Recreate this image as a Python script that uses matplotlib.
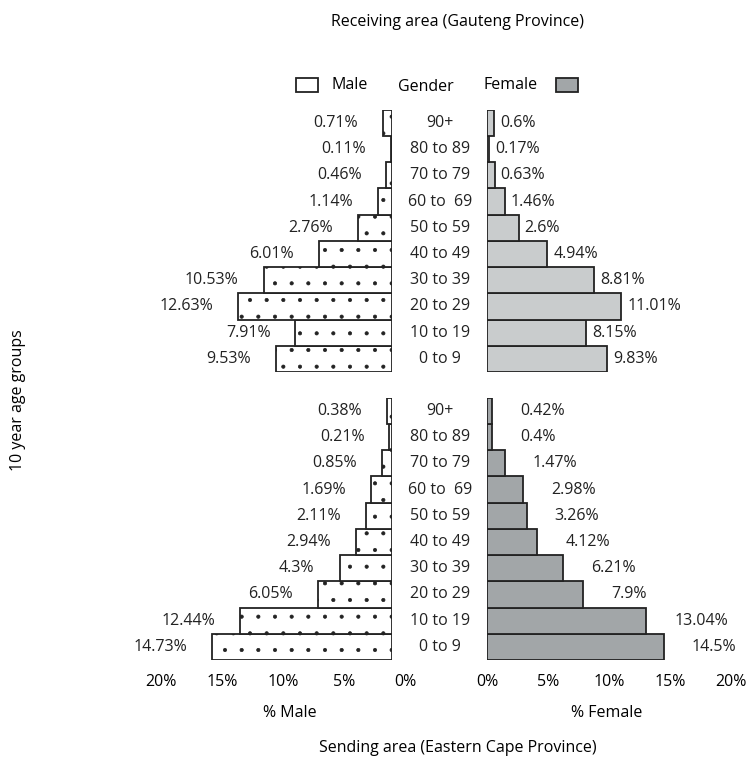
import matplotlib.pyplot as plt
import matplotlib.transforms as mtransforms
from matplotlib.patches import Rectangle

plt.rcParams['font.family'] = ['Open Sans', 'DejaVu Sans']
plt.rcParams['hatch.linewidth'] = 0.5
plt.rcParams['hatch.color'] = '#666666'

age_groups = ['0 to 9', '10 to 19', '20 to 29', '30 to 39', '40 to 49',
              '50 to 59', '60 to  69', '70 to 79', '80 to 89', '90+']

gauteng_male = [9.53, 7.91, 12.63, 10.53, 6.01, 2.76, 1.14, 0.46, 0.11, 0.71]
gauteng_female = [9.83, 8.15, 11.01, 8.81, 4.94, 2.6, 1.46, 0.63, 0.17, 0.6]
ecape_male = [14.73, 12.44, 6.05, 4.3, 2.94, 2.11, 1.69, 0.85, 0.21, 0.38]
ecape_female = [14.5, 13.04, 7.9, 6.21, 4.12, 3.26, 2.98, 1.47, 0.4, 0.42]

xticks = [0, 5, 10, 15, 20]
xticklabels = ['0%', '5%', '10%', '15%', '20%']

female_top = '#c9cccd'
female_bottom = '#a2a6a8'
fs = 11.5

fig = plt.figure(figsize=(7.53, 7.6), dpi=100)

W = 0.3241
panels = [
    (0.5105, gauteng_male, gauteng_female, female_top, 25, 6, False),
    (0.1316, ecape_male, ecape_female, female_bottom, 25, 28, True),
]

for bottom, male, female, fcol, mgap, fgap, show_ticks in panels:
    axm = fig.add_axes([0.1965, bottom, W, 0.345])
    axf = fig.add_axes([0.6467, bottom, W, 0.345])
    y = list(range(len(age_groups)))

    axm.barh(y, male, height=1.0, color='white', edgecolor='#222222',
             linewidth=1.3, hatch='.')
    axf.barh(y, female, height=1.0, color=fcol, edgecolor='#222222',
             linewidth=1.3)

    axm.set_xlim(20, 0)
    axf.set_xlim(0, 20)
    for ax in (axm, axf):
        ax.set_ylim(-0.5, 9.5)
        ax.set_yticks([])
        for s in ax.spines.values():
            s.set_visible(False)
        ax.set_xticks(xticks)
        ax.tick_params(axis='x', length=0, pad=10, labelsize=fs)
        if show_ticks:
            ax.set_xticklabels(xticklabels)
        else:
            ax.set_xticklabels([])

    if show_ticks:
        # the male tick labels sit a little right of their ticks in the original
        shift = mtransforms.ScaledTranslation(0.13, 0, fig.dpi_scale_trans)
        for lab in axm.get_xticklabels():
            lab.set_transform(lab.get_transform() + shift)

    for yi, v in zip(y, male):
        axm.annotate(f'{v:g}%', (v, yi), xytext=(-mgap, 0),
                     textcoords='offset pixels', ha='right', va='center',
                     fontsize=fs, color='#222222')
    for yi, v in zip(y, female):
        axf.annotate(f'{v:g}%', (v, yi), xytext=(fgap, 0),
                     textcoords='offset pixels', ha='left', va='center',
                     fontsize=fs, color='#222222')

    tr = mtransforms.blended_transform_factory(fig.transFigure, axm.transData)
    for yi, lab in zip(y, age_groups):
        fig.text(0.584, yi, lab, transform=tr, ha='center', va='center',
                 fontsize=fs, color='#222222')

    if show_ticks:
        axm.set_xlabel('% Male', fontsize=fs)
        axf.set_xlabel('% Female', fontsize=fs)
        axm.xaxis.set_label_coords(0.58, -0.17)
        axf.xaxis.set_label_coords(0.49, -0.17)

# legend row
fig.text(0.465, 0.888, 'Male', ha='center', va='center', fontsize=fs)
fig.text(0.565, 0.886, 'Gender', ha='center', va='center', fontsize=fs)
fig.text(0.678, 0.888, 'Female', ha='center', va='center', fontsize=fs)
fig.patches.append(Rectangle((0.393, 0.879), 0.029, 0.018, transform=fig.transFigure,
                             facecolor='white', edgecolor='#222222', linewidth=1.3))
fig.patches.append(Rectangle((0.739, 0.879), 0.029, 0.018, transform=fig.transFigure,
                             facecolor=female_bottom, edgecolor='#222222', linewidth=1.3))

fig.text(0.608, 0.971, 'Receiving area (Gauteng Province)', ha='center', va='center',
         fontsize=fs)
fig.text(0.608, 0.016, 'Sending area (Eastern Cape Province)', ha='center', va='center',
         fontsize=fs)
fig.text(0.024, 0.474, '10 year age groups', rotation=90, ha='center', va='center',
         fontsize=fs)

plt.savefig('out.png', dpi=100)
plt.close()
